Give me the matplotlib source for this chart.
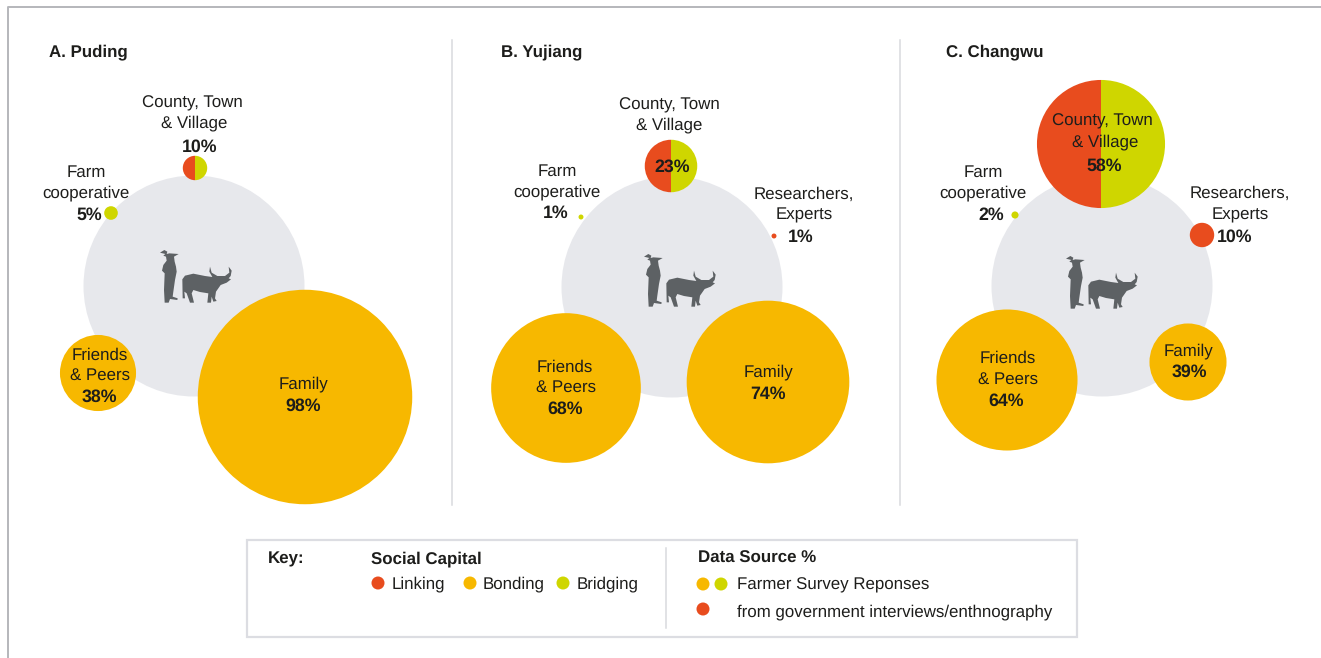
import matplotlib
matplotlib.use("Agg")
from matplotlib import pyplot as plt
from matplotlib.patches import Circle, Wedge, Polygon, Rectangle

plt.rcParams['font.family'] = ['Liberation Sans', 'DejaVu Sans']
plt.rcParams['text.hinting'] = 'none'

## values (%)
panels = ['A. Puding', 'B. Yujiang', 'C. Changwu']
county = [10, 23, 58]
farm = [5, 1, 2]
researchers = [None, 1, 10]
friends = [38, 68, 64]
family = [98, 74, 39]

RED = '#E84C1E'
ORANGE = '#F7B800'
GREEN = '#CFD600'
GREY = '#E7E8EC'
INK = '#1D1D1B'
ICON = '#5D6164'

## layout in pixels, one entry per panel
title_x = [49, 501, 946]
hub_xy = [(194, 286), (672, 287), (1102, 286)]
hub_r = 110.5
county_xy = [(195, 168), (671, 166), (1101, 144)]
farm_xy = [(111, 213), (581, 217), (1015, 215)]
res_xy = [None, (774, 236), (1202, 235)]
friends_xy = [(98, 373), (566, 388), (1007, 380)]
family_xy = [(305, 397), (768, 382), (1188, 362)]
icon_off = [(0, 0), (484, 4), (906, 6)]

county_txt = [((192, 102), (194, 122), (200, 146)),
              ((669, 104), (669, 124), (672, 166)),
              ((1102, 120), (1105, 141), (1104, 165))]
farm_txt = [((86, 172), (86, 192), (89, 214)),
            ((557, 171), (557, 191), (556, 212)),
            ((983, 172), (983, 192), (991, 214))]
res_txt = [None,
           ((804, 194), (804, 214), (801, 236)),
           ((1240, 193), (1240, 214), (1235, 236))]
friends_txt = [((100, 355), (100, 375), (99, 396)),
               ((565, 367), (566, 387), (565, 408)),
               ((1008, 358), (1008, 379), (1006, 400))]
family_txt = [((303, 383), (303, 405)),
              ((768, 371), (768, 393)),
              ((1188, 350), (1189, 371))]

farmer = [(90, 68), (103, 60), (112, 65), (110, 72), (118, 70), (146, 72), (132, 80), (134, 95),
          (138, 110), (140, 125), (135, 150), (130, 185), (128, 200), (143, 205), (142, 210),
          (120, 207), (116, 218), (104, 218), (102, 180), (104, 130), (96, 122), (100, 105),
          (110, 92), (108, 80), (100, 77), (106, 72)]
ox = [(157, 148), (165, 137), (190, 131), (225, 138), (247, 141), (238, 125), (240, 110),
      (245, 128), (262, 138), (285, 138), (298, 128), (296, 110), (305, 122), (302, 138),
      (296, 145), (303, 148), (290, 158), (272, 165), (258, 185), (255, 205), (260, 213),
      (250, 215), (245, 200), (243, 218), (232, 218), (235, 190), (210, 186), (190, 180),
      (185, 190), (192, 218), (180, 218), (170, 190), (163, 185), (165, 205), (158, 205)]


def radius(v):
    return 1.08 * v + 1.4


fig = plt.figure(figsize=(13.21, 6.58), dpi=100)
ax = fig.add_axes([0, 0, 1, 1])
ax.set_xlim(0, 1321)
ax.set_ylim(658, 0)
ax.axis('off')


def label(x, y, s, bold=False, ha='center', size=12.2):
    ax.text(x, y - 1, s, fontsize=size, color=INK, ha=ha, va='center_baseline',
            fontweight='bold' if bold else 'normal', zorder=5)


def pct(xy, v):
    label(xy[0], xy[1], '%d%%' % v, bold=True, size=12.8)


def bubble(xy, v, color, adj=0.0):
    ax.add_patch(Circle(xy, radius(v) + adj, fc=color, ec='none', zorder=3))


# frame and separators
ax.plot([8, 8, 1321], [658, 7, 7], color='#B5B7BB', lw=1.4)
for x in [452, 900]:
    ax.plot([x, x], [40, 505], color='#D9DADE', lw=1.1)

for i in range(3):
    label(title_x[i], 51, panels[i], bold=True, ha='left', size=12.2)
    ax.add_patch(Circle(hub_xy[i], hub_r, fc=GREY, ec='none', zorder=1))

    dx, dy = icon_off[i]
    for shape in [farmer, ox]:
        pts = [(130 + x / 3 + dx, 230 + y / 3 + dy) for x, y in shape]
        ax.add_patch(Polygon(pts, fc=ICON, ec='none', zorder=2))

    # county bubble is split between two sources
    r = radius(county[i])
    ax.add_patch(Wedge(county_xy[i], r, 90, 270, fc=RED, ec='none', zorder=3))
    ax.add_patch(Wedge(county_xy[i], r, 270, 450, fc=GREEN, ec='none', zorder=3))

    bubble(farm_xy[i], farm[i], GREEN)
    if researchers[i] is not None:
        bubble(res_xy[i], researchers[i], RED)
    bubble(friends_xy[i], friends[i], ORANGE, adj=-4.4 if friends[i] == 38 else 0)
    bubble(family_xy[i], family[i], ORANGE, adj=-5 if family[i] == 39 else 0)

    a, b, c = county_txt[i]
    label(*a, 'County, Town')
    label(*b, '& Village')
    pct(c, county[i])
    a, b, c = farm_txt[i]
    label(*a, 'Farm')
    label(*b, 'cooperative')
    pct(c, farm[i])
    if researchers[i] is not None:
        a, b, c = res_txt[i]
        label(*a, 'Researchers,')
        label(*b, 'Experts')
        pct(c, researchers[i])
    a, b, c = friends_txt[i]
    label(*a, 'Friends')
    label(*b, '& Peers')
    pct(c, friends[i])
    a, b = family_txt[i]
    label(*a, 'Family')
    pct(b, family[i])

#%% key
ax.add_patch(Rectangle((247, 540), 830, 97, fc='white', ec='#DCDDE2', lw=1.6))
ax.plot([666, 666], [548, 628], color='#D9DADE', lw=1.1)
label(268, 558, 'Key:', bold=True, ha='left')
label(371, 558, 'Social Capital', bold=True, ha='left')
label(698, 558, 'Data Source %', bold=True, ha='left')
for x, name, c, tx in [(378, 'Linking', RED, 392), (470, 'Bonding', ORANGE, 483), (563, 'Bridging', GREEN, 577)]:
    ax.add_patch(Circle((x, 583), 6.5, fc=c, ec='none'))
    label(tx, 583, name, ha='left')
for x, y, c in [(703, 584, ORANGE), (721, 584, GREEN), (703, 609, RED)]:
    ax.add_patch(Circle((x, y), 6.5, fc=c, ec='none'))
label(737, 584, 'Farmer Survey Reponses', ha='left')
label(737, 611, 'from government interviews/enthnography', ha='left')

fig.savefig('out.png', dpi=100)
